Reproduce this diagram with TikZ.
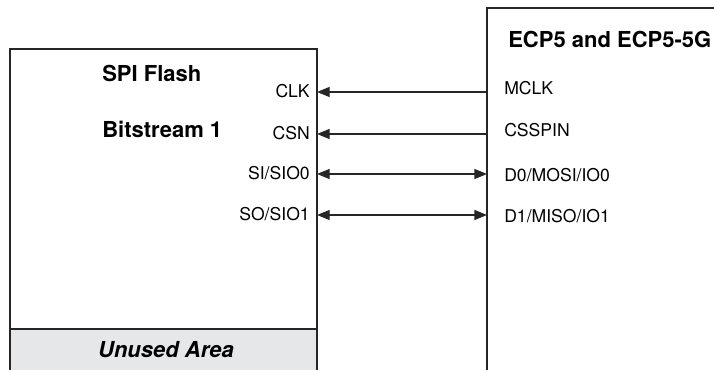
\documentclass[tikz,border=0pt]{standalone}
\usepackage{fontspec}
\setmainfont{TeX Gyre Heros}
\usetikzlibrary{arrows.meta, positioning}

\definecolor{unusedgray}{RGB}{230,231,233}

\tikzset{
  title/.style={font=\bfseries\fontsize{16.5}{18}\selectfont, inner sep=0pt},
  pin/.style={font=\fontsize{13.2}{15}\selectfont, inner sep=0pt},
  wire/.style={line width=1pt, black!85},
}

\begin{document}
\begin{tikzpicture}[x=0.75pt, y=-0.75pt, >={Triangle[length=9.5pt, width=7.5pt]}]
  \useasboundingbox (0,0) rectangle (714,370);

  % flash device
  \fill[unusedgray] (10,329) rectangle (317,370);
  \draw[wire] (10,370) -- (10,49) -- (317,49) -- (317,370);
  \draw[wire] (10,329) -- (317,329);
  \node[title, anchor=base west] (flash) at (102,82) {SPI Flash};
  \node[title, anchor=base west] (bits) at (102,138) {Bitstream 1};
  \node[title, font=\bfseries\itshape\fontsize{16.5}{18}\selectfont, anchor=base] (unused) at (166,358) {Unused Area};

  % FPGA
  \draw[wire] (487,370) -- (487,8) -- (714,8);
  \node[title, anchor=base west] (ecp) at (508,48) {ECP5 and ECP5-5G};

  % pins of the flash
  \node[pin, anchor=base east] (clk) at (310,98) {CLK};
  \node[pin, anchor=base east] (csn) at (310,140) {CSN};
  \node[pin, anchor=base east] (si) at (310,180) {SI/SIO0};
  \node[pin, anchor=base east] (so) at (310,221) {SO/SIO1};

  % pins of the FPGA
  \node[pin, anchor=base west] (mclk) at (504,95) {MCLK};
  \node[pin, anchor=base west] (csspin) at (504,137) {CSSPIN};
  \node[pin, anchor=base west] (d0) at (504,181.5) {D0/MOSI/IO0};
  \node[pin, anchor=base west] (d1) at (504,222.5) {D1/MISO/IO1};

  % connection points on the edges
  \coordinate (fclk) at (317,92);  \coordinate (eclk) at (487,92);
  \coordinate (fcsn) at (317,134); \coordinate (ecsn) at (487,134);
  \coordinate (fsi) at (317,174);  \coordinate (ed0) at (487,174);
  \coordinate (fso) at (317,215);  \coordinate (ed1) at (487,215);

  \draw[wire, <-] (fclk) -- (eclk);
  \draw[wire, <-] (fcsn) -- (ecsn);
  \draw[wire, <->] (fsi) -- (ed0);
  \draw[wire, <->] (fso) -- (ed1);
\end{tikzpicture}
\end{document}
